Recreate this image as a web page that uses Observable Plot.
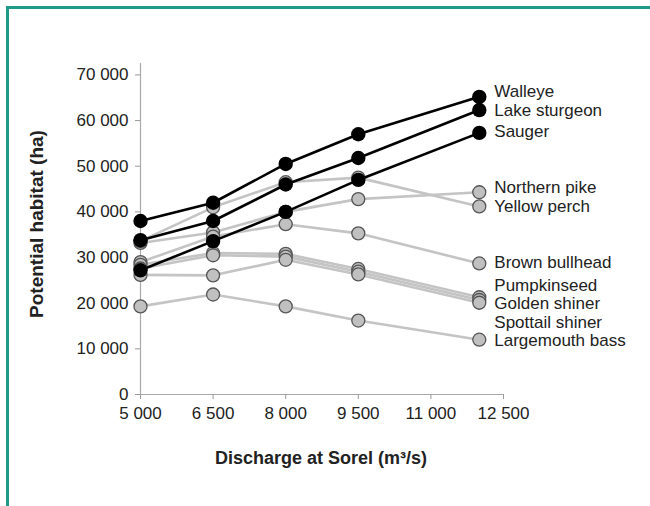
<!DOCTYPE html>
<html>
<head>
<meta charset="utf-8">
<script src="https://cdn.jsdelivr.net/npm/d3@7"></script>
<script src="https://cdn.jsdelivr.net/npm/@observablehq/plot@0.6"></script>
<style>
  html, body { margin: 0; padding: 0; background: #fff; }
  #wrap { position: relative; width: 650px; height: 506px; overflow: hidden; }
  #frame { position: absolute; left: 6px; top: 6px; width: 700px; height: 600px;
           border-top: 3px solid #1f9a87; border-left: 3px solid #1f9a87; pointer-events: none; }
  #chart { position: absolute; left: 0; top: 0; }
</style>
</head>
<body>
<div id="wrap"><div id="chart"></div><div id="frame"></div></div>
<script>
// Discharge values (m³/s) at which habitat was computed
const discharge = [5000, 6500, 8000, 9500, 12000];
const xTicks = [5000, 6500, 8000, 9500, 11000, 12500];
const yTicks = [0, 10000, 20000, 30000, 40000, 50000, 60000, 70000];

// Potential habitat (ha) per species
const species = ["Walleye", "Lake sturgeon", "Sauger", "Northern pike", "Yellow perch",
                 "Brown bullhead", "Pumpkinseed", "Golden shiner", "Spottail shiner", "Largemouth bass"];
const walleye        = [38000, 42000, 50500, 57000, 65200];
const lakeSturgeon   = [33800, 38000, 46000, 51800, 62300];
const sauger         = [27200, 33600, 40000, 47000, 57300];
const northernPike   = [33200, 35500, 40000, 42800, 44300];
const yellowPerch    = [33600, 41000, 46500, 47500, 41200];
const brownBullhead  = [29000, 34600, 37300, 35300, 28700];
const pumpkinseed    = [28400, 31000, 30800, 27500, 21300];
const goldenShiner   = [27600, 30500, 30200, 26900, 20700];
const spottailShiner = [26200, 26100, 29500, 26300, 20100];
const largemouthBass = [19300, 21900, 19300, 16200, 12000];
const seriesValues = [walleye, lakeSturgeon, sauger, northernPike, yellowPerch,
                      brownBullhead, pumpkinseed, goldenShiner, spottailShiner, largemouthBass];
const highlighted = ["Walleye", "Lake sturgeon", "Sauger"];
// label anchor values (ha) for the right-hand species labels
const labelY = [66300, 62300, 57500, 45400, 41250, 28900, 23950, 19880, 15800, 11720];

const rows = species.flatMap((s, i) => discharge.map((d, j) => ({species: s, x: d, y: seriesValues[i][j]})));
const blackRows = rows.filter(r => highlighted.includes(r.species));
const grayRows = rows.filter(r => !highlighted.includes(r.species));
const labels = species.map((s, i) => ({species: s, x: discharge[discharge.length - 1], y: labelY[i]}));

const fmt = d => d3.format(",")(d).replace(/,/g, " ");
const font = "Arial, 'Liberation Sans', sans-serif";

const plot = Plot.plot({
  width: 650,
  height: 506,
  marginLeft: 140,
  marginRight: 147,
  marginTop: 63,
  marginBottom: 112,
  style: {fontFamily: font, fontSize: "17px", color: "#222", background: "transparent"},
  x: {domain: [5000, 12500]},
  y: {domain: [0, 72500]},
  marks: [
    Plot.ruleX([5000], {y1: 0, y2: 72500, stroke: "#aaa", strokeWidth: 1.2}),
    Plot.ruleY([0], {x1: 5000, x2: 12500, stroke: "#aaa", strokeWidth: 1.2}),
    Plot.axisX({ticks: xTicks, tickFormat: fmt, tickSize: 5, tickPadding: 7, stroke: "#999",
                fill: "#222", fontSize: 17, label: null}),
    Plot.axisY({ticks: yTicks, tickFormat: fmt, tickSize: 5, tickPadding: 7, stroke: "#999",
                fill: "#222", fontSize: 17, label: null}),
    Plot.line(grayRows, {x: "x", y: "y", z: "species", stroke: "#c4c4c4", strokeWidth: 2.6}),
    Plot.dot(grayRows, {x: "x", y: "y", r: 6.5, fill: "#c0c0c0", stroke: "#555", strokeWidth: 1.3}),
    Plot.line(blackRows, {x: "x", y: "y", z: "species", stroke: "#000", strokeWidth: 2.6}),
    Plot.dot(blackRows, {x: "x", y: "y", r: 7.2, fill: "#000"}),
    Plot.text(labels, {x: "x", y: "y", text: "species", dx: 15, textAnchor: "start",
                       fontSize: 17, fill: "#222"}),
    Plot.text(["Potential habitat (ha)"], {frameAnchor: "left", textAnchor: "middle", dx: -104, dy: -5,
               rotate: -90, fontWeight: "bold", fontSize: 19, fill: "#222"}),
    Plot.text(["Discharge at Sorel (m³/s)"], {frameAnchor: "bottom", dx: -1, dy: 69,
               fontWeight: "bold", fontSize: 18, fill: "#222"})
  ]
});
document.getElementById("chart").appendChild(plot);
</script>
</body>
</html>
